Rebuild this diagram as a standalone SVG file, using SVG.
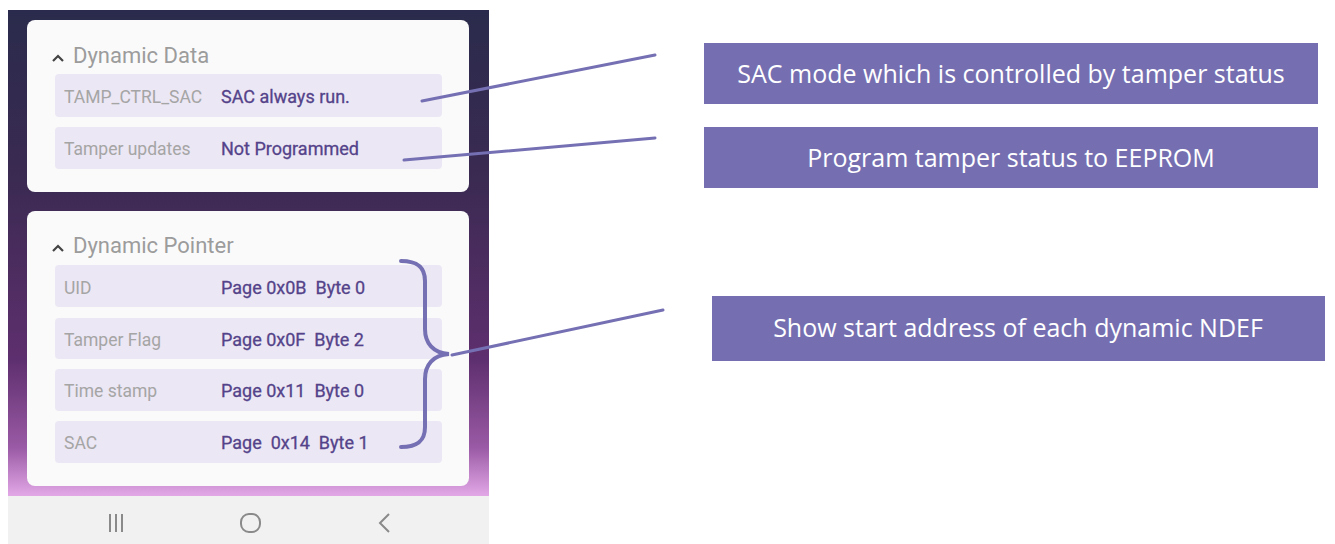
<svg xmlns="http://www.w3.org/2000/svg" width="1335" height="544" viewBox="0 0 1335 544">
<defs>
<linearGradient id="bg" x1="0" y1="0" x2="0" y2="1">
<stop offset="0" stop-color="#2a2b4c"/>
<stop offset="0.35" stop-color="#3b2a52"/>
<stop offset="0.72" stop-color="#5e2f6e"/>
<stop offset="0.9" stop-color="#9a5aa5"/>
<stop offset="1" stop-color="#e2a8e6"/>
</linearGradient>
<style>
.card{fill:#fafafa}
.row{fill:#ece7f4}
.hdr{font-family:Roboto,"Liberation Sans",sans-serif;font-size:22px;fill:#9c9c9c}
.lbl{font-family:Roboto,"Liberation Sans",sans-serif;font-size:17.5px;fill:#a5a5a5}
.val{font-family:Roboto,"Liberation Sans",sans-serif;font-size:18px;fill:#54438a;white-space:pre;stroke:#54438a;stroke-width:0.3}
.box{fill:#756fb1}
.btxt{font-family:"Open Sans","Liberation Sans",sans-serif;font-size:25px;fill:#ffffff;text-anchor:middle}
.conn{stroke:#7570b3;stroke-width:3;fill:none;stroke-linecap:round}
.brace{stroke:#7570b3;stroke-width:4;fill:none;stroke-linecap:round}
.nav{stroke:#8a8a8a;stroke-width:2;fill:none}
.caret{stroke:#444;stroke-width:2.2;fill:none}
</style>
</defs>
<rect width="1335" height="544" fill="#ffffff"/>
<g id="phone">
<rect x="8" y="10" width="481" height="486" fill="url(#bg)"/>
<rect x="8" y="496" width="481" height="48" fill="#f1f1f1"/>
<g id="navbar">
<path class="nav" d="M110 514v18M116 514v18M122 514v18"/>
<rect class="nav" x="241" y="514" width="19" height="18" rx="8"/>
<path class="nav" d="M389 514l-9 9 9 9"/>
</g>
</g>
<g id="card-data">
<rect class="card" x="27" y="20" width="442" height="172" rx="8"/>
<path class="caret" d="M53 61l5-5 5 5"/>
<text class="hdr" x="73" y="63">Dynamic Data</text>
<rect class="row" x="55" y="74" width="387" height="43" rx="4"/>
<text class="lbl" x="64" y="103">TAMP_CTRL_SAC</text>
<text class="val" x="221" y="103">SAC always run.</text>
<rect class="row" x="55" y="127" width="387" height="42" rx="4"/>
<text class="lbl" x="64" y="155">Tamper updates</text>
<text class="val" x="221" y="155">Not Programmed</text>
</g>
<g id="card-pointer">
<rect class="card" x="27" y="211" width="442" height="275" rx="8"/>
<path class="caret" d="M53 251l5-5 5 5"/>
<text class="hdr" x="73" y="253">Dynamic Pointer</text>
<rect class="row" x="55" y="265" width="387" height="42" rx="4"/>
<text class="lbl" x="64" y="294">UID</text>
<text class="val" x="221" y="294">Page 0x0B  Byte 0</text>
<rect class="row" x="55" y="318" width="387" height="41" rx="4"/>
<text class="lbl" x="64" y="346">Tamper Flag</text>
<text class="val" x="221" y="346">Page 0x0F  Byte 2</text>
<rect class="row" x="55" y="369" width="387" height="42" rx="4"/>
<text class="lbl" x="64" y="397">Time stamp</text>
<text class="val" x="221" y="397">Page 0x11  Byte 0</text>
<rect class="row" x="55" y="421" width="387" height="42" rx="4"/>
<text class="lbl" x="64" y="449">SAC</text>
<text class="val" x="221" y="449">Page  0x14  Byte 1</text>
</g>
<g id="box-sac">
<rect class="box" x="704" y="43" width="614" height="61"/>
<text class="btxt" x="1011" y="83">SAC mode which is controlled by tamper status</text>
</g>
<g id="box-program">
<rect class="box" x="704" y="127" width="614" height="61"/>
<text class="btxt" x="1011" y="167">Program tamper status to EEPROM</text>
</g>
<g id="box-show">
<rect class="box" x="712" y="296" width="613" height="65"/>
<text class="btxt" x="1018" y="337">Show start address of each dynamic NDEF</text>
</g>
<g id="connectors">
<path class="brace" d="M401 261c14 0 24 4 24 20v48c0 14 8 24 24 25c-16 1-24 11-24 25v48c0 16-10 20-24 20"/>
<line class="conn" x1="422" y1="101" x2="655" y2="55"/>
<line class="conn" x1="404" y1="160" x2="655" y2="138"/>
<line class="conn" x1="452" y1="355" x2="663" y2="310"/>
</g>
</svg>
